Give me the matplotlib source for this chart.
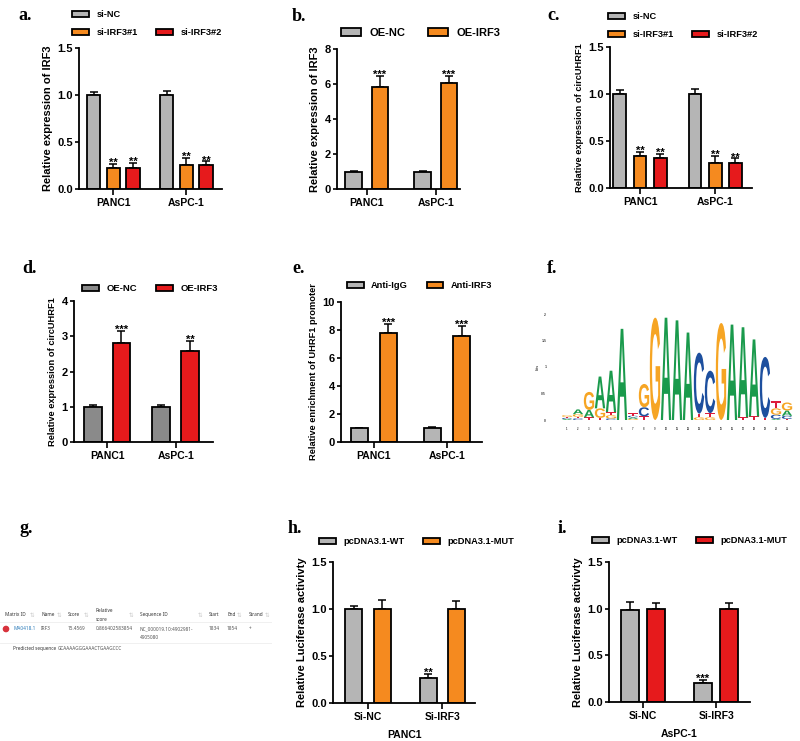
import numpy as np
import matplotlib
matplotlib.use("Agg")
import matplotlib.pyplot as plt
from matplotlib.patches import Patch, PathPatch, Circle
from matplotlib.textpath import TextPath
from matplotlib.font_manager import FontProperties
from matplotlib.transforms import Affine2D

plt.rcParams['font.family'] = ['Liberation Sans', 'DejaVu Sans']
plt.rcParams['font.weight'] = 'bold'
plt.rcParams['axes.labelweight'] = 'bold'

W, H = 800, 741
GREY = '#b5b5b5'
DGREY = '#8a8a8a'
ORANGE = '#f58a1f'
RED = '#e61a1c'

cells = ['PANC1', 'AsPC-1']
si_groups = ['Si-NC', 'Si-IRF3']

# a. IRF3 knockdown
a_labels = ['si-NC', 'si-IRF3#1', 'si-IRF3#2']
a_means = [[1.00, 1.00], [0.22, 0.255], [0.22, 0.26]]
a_err = [[0.03, 0.045], [0.05, 0.075], [0.06, 0.035]]
a_stars = [['', ''], ['**', '**'], ['**', '**']]

# b. IRF3 overexpression
b_labels = ['OE-NC', 'OE-IRF3']
b_means = [[1.00, 1.00], [5.82, 6.05]]
b_err = [[0.05, 0.05], [0.63, 0.40]]
b_stars = [['', ''], ['***', '***']]

# c. circUHRF1 after knockdown
c_labels = ['si-NC', 'si-IRF3#1', 'si-IRF3#2']
c_means = [[1.00, 1.00], [0.34, 0.27], [0.32, 0.27]]
c_err = [[0.04, 0.055], [0.045, 0.07], [0.04, 0.045]]
c_stars = [['', ''], ['**', '**'], ['**', '**']]

# d. circUHRF1 after overexpression
d_labels = ['OE-NC', 'OE-IRF3']
d_means = [[1.00, 1.00], [2.80, 2.57]]
d_err = [[0.05, 0.05], [0.36, 0.29]]
d_stars = [['', ''], ['***', '**']]

# e. ChIP enrichment
e_labels = ['Anti-IgG', 'Anti-IRF3']
e_means = [[1.00, 1.00], [7.82, 7.58]]
e_err = [[0.03, 0.05], [0.60, 0.70]]
e_stars = [['', ''], ['***', '***']]

# h. luciferase PANC1
h_labels = ['pcDNA3.1-WT', 'pcDNA3.1-MUT']
h_means = [[1.00, 0.27], [1.00, 1.00]]
h_err = [[0.035, 0.04], [0.10, 0.085]]
h_stars = [['', '**'], ['', '']]

# i. luciferase AsPC-1
i_labels = ['pcDNA3.1-WT', 'pcDNA3.1-MUT']
i_means = [[0.985, 0.207], [1.00, 1.00]]
i_err = [[0.085, 0.03], [0.06, 0.065]]
i_stars = [['', '***'], ['', '']]

# f. motif logo, information content (bits) per position
logo_A = [.02, .09, .14, .60, .78, 1.72, .03, 0, 0, 1.93, 1.88, 1.65, 0, 0, 0, 1.80, 1.70, 1.45, 0, .02, .10]
logo_C = [.02, .03, 0, 0, .03, 0, .03, .17, 0, 0, 0, 0, 1.15, .80, 0, 0, 0, 0, 1.15, .08, .06]
logo_G = [.03, .05, .34, .18, .06, 0, .02, .44, 1.93, 0, 0, 0, .05, .05, 1.83, 0, 0, 0, 0, .12, .15]
logo_T = [.02, .03, .05, .04, .06, 0, .05, .07, 0, 0, 0, 0, .07, .08, 0, 0, .05, .07, .04, .13, .02]
LOGO_COLORS = {'A': '#1a9a4c', 'C': '#1d4f9e', 'G': '#f6a524', 'T': '#dd1d3b'}

# g. JASPAR hit
tbl_header = ['Matrix ID', 'Name', 'Score', 'Relative\nscore', 'Sequence ID', 'Start', 'End', 'Strand']
tbl_row = ['MA0418.1', 'IRF3', '15.4569', '0.866402583854', 'NC_000019.10:4902981-\n4905080', '1834', '1854', '+']
tbl_x = [5, 41, 68, 96, 140, 209, 227, 249]
tbl_icons = [32, 59, 86, 131, 200, None, 239, 267]
pred_seq = 'GCAAAAGGGAAACTGAAGCCC'

fig = plt.figure(figsize=(W / 100, H / 100), dpi=100)


def rect(x0, x1, ytop, ybot):
    return [x0 / W, 1 - ybot / H, (x1 - x0) / W, (ybot - ytop) / H]


def bar_panel(box, labels, means, errs, stars, colors, offsets, width, xlim, ylim, yticks, ytl,
              ylabel, ylsize, xtl, leg_xy, leg_size, xlabel=None):
    ax = fig.add_axes(rect(*box))
    x = np.arange(len(xtl))
    handles = []
    for k in range(len(labels)):
        m = np.array(means[k])
        e = np.array(errs[k])
        xs = x + offsets[k]
        ax.errorbar(xs, m, yerr=[np.zeros_like(e), e], fmt='none', ecolor='black',
                    elinewidth=1.1, capsize=3.2, capthick=1.1, zorder=1)
        b = ax.bar(xs, m, width, color=colors[k], edgecolor='black', linewidth=1.3, zorder=2)
        handles.append(b)
        for xi, top, s in zip(xs, m + e, stars[k]):
            if s:
                ax.annotate(s, (xi, top), xytext=(0, -1.5), textcoords='offset points',
                            ha='center', va='baseline', fontsize=8)
    ax.set_xlim(*xlim)
    ax.set_ylim(*ylim)
    ax.set_yticks(yticks)
    ax.set_yticklabels(ytl)
    ax.set_xticks(x)
    ax.set_xticklabels(xtl)
    ax.tick_params(axis='x', length=4.5, width=1.2, labelsize=7.5, pad=2)
    ax.tick_params(axis='y', length=3, width=1.2, labelsize=8, pad=1.5)
    for sp in ['top', 'right']:
        ax.spines[sp].set_visible(False)
    for sp in ['left', 'bottom']:
        ax.spines[sp].set_linewidth(1.3)
    ax.set_ylabel(ylabel, fontsize=ylsize, labelpad=3)
    if xlabel:
        ax.set_xlabel(xlabel, fontsize=7.5, labelpad=6)
    if len(handles) == 3:
        hs = [handles[0], handles[1], Patch(visible=False), handles[2]]
        ls = [labels[0], labels[1], '', labels[2]]
    else:
        hs, ls = handles, labels
    ax.legend(hs, ls, ncol=2, loc='upper left', bbox_to_anchor=(leg_xy[0] / W, 1 - leg_xy[1] / H),
              bbox_transform=fig.transFigure, frameon=False, fontsize=leg_size,
              handlelength=1.8, handleheight=0.65, handletextpad=0.8, columnspacing=2.0,
              borderpad=0, borderaxespad=0, labelspacing=1.0)
    return ax


t15 = [0, 0.5, 1.0, 1.5]
t15l = ['0.0', '0.5', '1.0', '1.5']
off3 = [-0.27, 0, 0.27]

bar_panel((79, 222, 48, 189), a_labels, a_means, a_err, a_stars, [GREY, ORANGE, RED], off3, 0.18,
          (-0.47, 1.49), (0, 1.5), t15, t15l, 'Relative expression of IRF3', 8, cells, (72, 10), 6.7)
bar_panel((337, 460, 49, 189), b_labels, b_means, b_err, b_stars, [GREY, ORANGE], [-0.19, 0.19], 0.24,
          (-0.43, 1.35), (0, 8), [0, 2, 4, 6, 8], ['0', '2', '4', '6', '8'],
          'Relative expression of IRF3', 8, cells, (341, 28), 8)
bar_panel((610, 752, 47, 188), c_labels, c_means, c_err, c_stars, [GREY, ORANGE, RED], off3, 0.17,
          (-0.4, 1.49), (0, 1.5), t15, t15l, 'Relative expression of circUHRF1', 6.7, cells, (608, 12), 6.7)
bar_panel((74, 213, 301, 442), d_labels, d_means, d_err, d_stars, [DGREY, RED], [-0.21, 0.21], 0.26,
          (-0.48, 1.54), (0, 4), [0, 1, 2, 3, 4], ['0', '1', '2', '3', '4'],
          'Relative expression of circUHRF1', 6.7, cells, (82, 284), 6.8)
bar_panel((341, 482, 302, 442), e_labels, e_means, e_err, e_stars, [GREY, ORANGE], [-0.2, 0.2], 0.23,
          (-0.45, 1.48), (0, 10), [0, 2, 4, 6, 8, 10], ['0', '2', '4', '6', '8', '10'],
          'Relative enrichment of UHRF1 promoter', 6.7, cells, (347, 281), 6.7)
bar_panel((333, 475, 562, 703), h_labels, h_means, h_err, h_stars, [GREY, ORANGE], [-0.19, 0.19], 0.23,
          (-0.47, 1.44), (0, 1.5), t15, t15l, 'Relative Luciferase activivty', 8, si_groups, (319, 537),
          6.7, xlabel='PANC1')
bar_panel((609, 750, 562, 702), i_labels, i_means, i_err, i_stars, [GREY, RED], [-0.18, 0.18], 0.245,
          (-0.46, 1.46), (0, 1.5), t15, t15l, 'Relative Luciferase activivty', 8, si_groups, (592, 536),
          6.7, xlabel='AsPC-1')

# f. sequence logo
axf = fig.add_axes(rect(561.5, 792.5, 314, 420))
logo_fp = FontProperties(family='Liberation Sans', weight='bold')
logo = {'A': logo_A, 'C': logo_C, 'G': logo_G, 'T': logo_T}
for pos in range(len(logo_A)):
    stack = sorted(((logo[ch][pos], ch) for ch in 'ACGT' if logo[ch][pos] > 0))
    y0 = 0.0
    for h, ch in stack:
        tp = TextPath((0, 0), ch, size=1, prop=logo_fp)
        bb = tp.get_extents()
        w = 0.94
        tr = Affine2D().translate(-bb.x0, -bb.y0).scale(w / bb.width, h / bb.height).translate(pos - w / 2, y0)
        axf.add_patch(PathPatch(tr.transform_path(tp), facecolor=LOGO_COLORS[ch], edgecolor='none'))
        y0 += h
axf.set_xlim(-0.5, len(logo_A) - 0.5)
axf.set_ylim(0, 2)
axf.set_xticks(range(len(logo_A)))
axf.set_xticklabels([str(i + 1) for i in range(len(logo_A))])
axf.set_yticks([0, 0.5, 1, 1.5, 2])
axf.set_yticklabels(['0', '0.5', '1', '1.5', '2'])
axf.tick_params(axis='x', length=0, labelsize=2, pad=5, labelcolor='#444')
axf.tick_params(axis='y', length=0, labelsize=2.5, pad=11, labelcolor='#444')
axf.set_ylabel('bits', fontsize=2.5, labelpad=1, color='#444')
for sp in axf.spines.values():
    sp.set_visible(False)

# g. JASPAR table
axg = fig.add_axes(rect(0, 272, 595, 660))
axg.set_xlim(0, 272)
axg.set_ylim(660, 595)
axg.axis('off')
tfont = ['Noto Sans', 'DejaVu Sans']
for xh, txt in zip(tbl_x, tbl_header):
    axg.text(xh, 615, txt, fontsize=3.4, fontweight='bold', color='#333', va='center', ha='left',
             family=tfont, linespacing=2.0)
for xi in tbl_icons:
    if xi is not None:
        axg.text(xi, 615, '\u21c5', fontsize=4, color='#c8c8c8', va='center', ha='center',
                 family=['DejaVu Sans'], fontweight='normal')
axg.add_patch(Circle((6, 629), 2.6, color='#d8323c'))
for k, (xr, txt) in enumerate(zip(tbl_x, tbl_row)):
    if k == 0:
        axg.text(13, 629, txt, fontsize=3.4, fontweight='bold', color='#2a7ab8', va='center',
                 family=tfont)
    else:
        axg.text(xr, 629 if '\n' not in txt else 633, txt, fontsize=3.4, fontweight='normal',
                 color='#555', va='center', family=tfont, linespacing=2.0)
axg.plot([0, 272], [622, 622], color='#eeeeee', lw=0.6)
axg.plot([0, 272], [643, 643], color='#eeeeee', lw=0.6)
axg.text(13, 649, 'Predicted sequence', fontsize=3.4, fontweight='bold', color='#333', va='center',
         family=tfont)
axg.text(58, 649, pred_seq, fontsize=3.4, fontweight='normal', color='#555', va='center', family=tfont)

# panel letters
serif = ['Liberation Serif', 'DejaVu Serif']
for ch, px, py in [('a.', 18, 20), ('b.', 292, 21), ('c.', 547, 20), ('d.', 22, 273),
                   ('e.', 292, 273), ('f.', 547, 273), ('g.', 20, 533), ('h.', 288, 533),
                   ('i.', 558, 533)]:
    fig.text(px / W, 1 - py / H, ch, family=serif, fontsize=13, fontweight='bold', va='baseline')

fig.savefig('out.png', dpi=100, facecolor='white')
